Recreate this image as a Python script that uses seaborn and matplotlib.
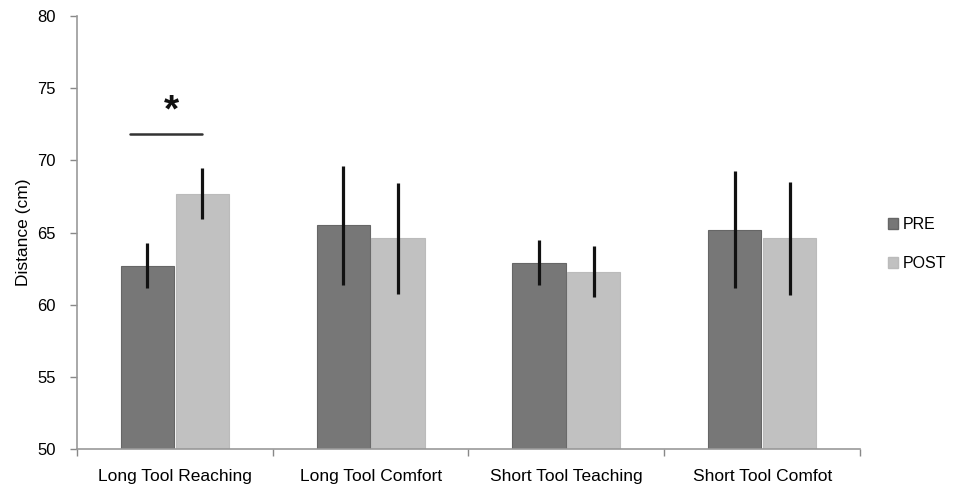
import matplotlib
matplotlib.use("Agg")
import matplotlib.pyplot as plt
import seaborn as sns
import pandas as pd
import numpy as np
from matplotlib.patches import Patch

categories = ["Long Tool Reaching", "Long Tool Comfort", "Short Tool Teaching", "Short Tool Comfot"]
conditions = ["PRE", "POST"]
pre_values = [62.7, 65.5, 62.9, 65.2]
post_values = [67.7, 64.6, 62.3, 64.6]
pre_err = [1.55, 4.1, 1.55, 4.05]
post_err = [1.75, 3.85, 1.75, 3.9]
yticks = [50, 55, 60, 65, 70, 75, 80]
sig_label = "*"
sig_y = 71.8

sns.set_theme(style="white")
plt.rcParams["font.family"] = ["Liberation Sans", "DejaVu Sans"]
plt.rcParams["text.color"] = "black"
plt.rcParams["xtick.color"] = "black"
plt.rcParams["ytick.color"] = "black"
plt.rcParams["axes.labelcolor"] = "black"

df = pd.DataFrame({
    "category": categories * 2,
    "condition": ["PRE"] * 4 + ["POST"] * 4,
    "value": pre_values + post_values,
})

fig = plt.figure(figsize=(9.61, 4.86), dpi=100)
ax = fig.add_axes([0.080, 0.076, 0.815, 0.891])

colors = {"PRE": "#777777", "POST": "#c1c1c1"}
sns.barplot(data=df, x="category", y="value", hue="condition", order=categories,
            hue_order=conditions, palette=colors, width=0.56, gap=0.03,
            errorbar=None, ax=ax, legend=False, saturation=1)

edge = {"PRE": "#666666", "POST": "#bbbbbb"}
pre_patches = ax.patches[:4]
post_patches = ax.patches[4:8]
for p in pre_patches:
    p.set_edgecolor(edge["PRE"]); p.set_linewidth(0.8)
for p in post_patches:
    p.set_edgecolor(edge["POST"]); p.set_linewidth(0.8)

pre_x = [p.get_x() + p.get_width() / 2 for p in pre_patches]
post_x = [p.get_x() + p.get_width() / 2 for p in post_patches]
ax.errorbar(pre_x, pre_values, yerr=pre_err, fmt="none", ecolor="#111111", elinewidth=2.3, capsize=0, zorder=5)
ax.errorbar(post_x, post_values, yerr=post_err, fmt="none", ecolor="#111111", elinewidth=2.3, capsize=0, zorder=5)

# significance marker
x0 = pre_x[0] - 0.09
x1 = post_x[0]
ax.plot([x0, x1], [sig_y, sig_y], color="#333333", lw=1.8)
ax.text((x0 + x1) / 2 + 0.03, sig_y + 0.9, sig_label, ha="center", va="baseline",
        fontsize=28, fontweight="bold", color="#111111")

ax.set_ylim(50, 80)
ax.set_xlim(-0.5, 3.5)
ax.set_yticks(yticks)
ax.set_yticklabels([str(t) for t in yticks], fontsize=12)
ax.set_xticks(range(4))
ax.set_xticklabels(categories, fontsize=12.5)
ax.set_xticks(np.arange(-0.5, 4.0, 1.0), minor=True)
ax.tick_params(axis="x", which="major", length=0, pad=14)
ax.tick_params(axis="x", which="minor", length=5, width=1, color="#888888", direction="out", bottom=True)
ax.tick_params(axis="y", length=5, width=1, color="#888888", direction="out", left=True, pad=10)
ax.set_xlabel("")
ax.set_ylabel("Distance (cm)", fontsize=12.5, labelpad=5)

for s in ["top", "right"]:
    ax.spines[s].set_visible(False)
for s in ["left", "bottom"]:
    ax.spines[s].set_color("#999999")
    ax.spines[s].set_linewidth(1.2)

handles = [Patch(facecolor=colors[c], edgecolor=edge[c]) for c in conditions]
fig.legend(handles, conditions, loc="center left", bbox_to_anchor=(0.924, 0.498),
           frameon=False, fontsize=11.5, handlelength=0.62, handleheight=0.62,
           handletextpad=0.3, labelspacing=1.5, borderpad=0, borderaxespad=0)

fig.savefig("out.png", dpi=100)
